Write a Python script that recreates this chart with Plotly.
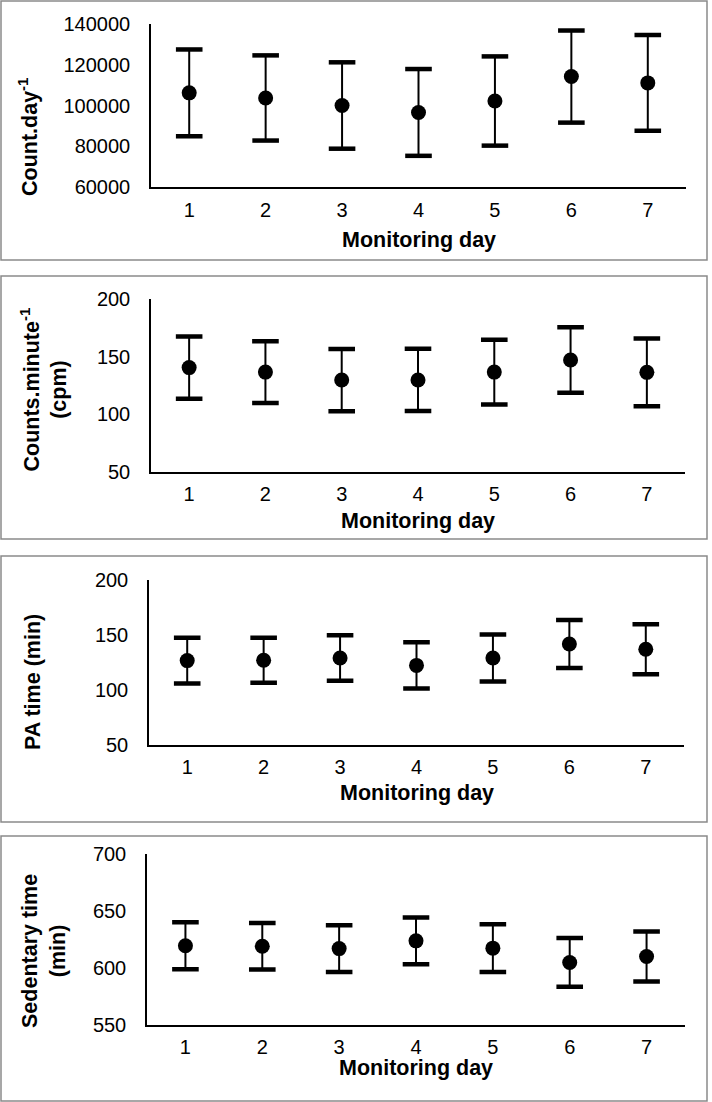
import numpy as np
import plotly.graph_objects as go

# ---------------- data ----------------
days = ["1", "2", "3", "4", "5", "6", "7"]

counts_day_mean = [106200, 103700, 100000, 96600, 102200, 114200, 111100]
counts_day_sd = [21300, 20900, 21200, 21300, 21900, 22600, 23500]

cpm_mean = [140.4, 136.5, 129.6, 129.7, 136.5, 147.0, 136.3]
cpm_sd = [27.1, 26.8, 27.0, 27.0, 28.1, 28.4, 29.5]

pa_mean = [126.6, 126.9, 128.9, 122.2, 129.0, 141.7, 136.9]
pa_sd = [20.8, 20.5, 20.7, 21.1, 21.4, 21.9, 22.8]

sed_mean = [619.5, 619.1, 617.0, 623.8, 617.4, 604.8, 610.0]
sed_sd = [20.7, 20.4, 20.6, 20.6, 21.1, 21.5, 22.0]

y_titles = [
    "Count.day<sup>-1</sup>",
    "Counts.minute<sup>-1</sup><br>(cpm)",
    "PA time (min)",
    "Sedentary time<br>(min)",
]
x_title = "Monitoring day"
y_ranges = [[60000, 140000], [50, 200], [50, 200], [550, 700]]
y_dticks = [20000, 50, 50, 50]

panels = [
    (counts_day_mean, counts_day_sd),
    (cpm_mean, cpm_sd),
    (pa_mean, pa_sd),
    (sed_mean, sed_sd),
]

# ---------------- layout geometry (pixels) ----------------
W, H = 712, 1102
# plot areas: left, right, top, bottom
plot_px = [
    (151, 686, 24, 187),
    (151, 685, 299, 471.7),
    (149, 684, 580, 744.7),
    (147, 685, 854.3, 1024.7),
]
# panel borders: top, bottom
border_px = [(1, 260), (276, 539), (556, 822), (836, 1101)]
# y title centers (x, y)
ytitle_px = [(28, 137), (43.5, 390), (33, 682), (44, 951)]
# x title cap centre y
xtitle_py = [240, 520.5, 792.5, 1067.5]

FONT = "Liberation Sans, Arial, sans-serif"

fig = go.Figure()
layout = dict(
    template="none",
    width=W, height=H, autosize=False,
    margin=dict(l=0, r=0, t=0, b=0, pad=0, autoexpand=False),
    paper_bgcolor="white", plot_bgcolor="white",
    showlegend=False,
    font=dict(family=FONT, color="black", size=20),
)

shapes = []
annotations = []

for i, (means, sds) in enumerate(panels):
    n = "" if i == 0 else str(i + 1)
    xa, ya = "x" + n, "y" + n
    means_a = np.array(means, dtype=float)
    sds_a = np.array(sds, dtype=float)

    # points with error stems
    fig.add_trace(go.Scatter(
        x=days, y=means, mode="markers", xaxis=xa, yaxis=ya,
        marker=dict(size=15, color="black"),
        error_y=dict(type="data", array=sds, visible=True,
                     color="black", thickness=2, width=0),
        hoverinfo="skip",
    ))
    # thick caps
    fig.add_trace(go.Scatter(
        x=days + days, y=np.concatenate([means_a + sds_a, means_a - sds_a]),
        mode="markers", xaxis=xa, yaxis=ya,
        marker=dict(symbol="line-ew", size=19,
                    line=dict(width=4.5, color="black")),
        hoverinfo="skip",
    ))

    l, r, t, b = plot_px[i]
    layout["xaxis" + n] = dict(
        domain=[l / W, r / W], anchor=ya, automargin=False,
        type="category", range=[-0.5, 6.5],
        showline=True, linecolor="black", linewidth=1.5,
        showgrid=False, zeroline=False, ticks="",
        ticklabelstandoff=4,
        tickfont=dict(size=20, family=FONT, color="black"),
    )
    layout["yaxis" + n] = dict(
        domain=[1 - b / H, 1 - t / H], anchor=xa, automargin=False,
        range=y_ranges[i], dtick=y_dticks[i], tick0=y_ranges[i][0],
        tickformat="d",
        showline=True, linecolor="black", linewidth=1.5,
        showgrid=False, zeroline=False, ticks="",
        ticklabelstandoff=15,
        tickfont=dict(size=20, family=FONT, color="black"),
    )

    bt, bb = border_px[i]
    shapes.append(dict(
        type="rect", xref="paper", yref="paper",
        x0=1 / W, x1=707 / W, y0=1 - bb / H, y1=1 - bt / H,
        line=dict(color="#8a8a8a", width=1.5), fillcolor="rgba(0,0,0,0)",
    ))

    tx, ty = ytitle_px[i]
    annotations.append(dict(
        text="<b>" + y_titles[i] + "</b>", xref="paper", yref="paper",
        x=tx / W, y=1 - ty / H, xanchor="center", yanchor="middle",
        textangle=-90, showarrow=False,
        font=dict(size=21.5, family=FONT, color="black"),
    ))
    annotations.append(dict(
        text="<b>" + x_title + "</b>", xref="paper", yref="paper",
        x=((l + r) / 2) / W, y=1 - xtitle_py[i] / H,
        xanchor="center", yanchor="middle", showarrow=False,
        font=dict(size=21.5, family=FONT, color="black"),
    ))

layout["shapes"] = shapes
layout["annotations"] = annotations
fig.update_layout(**layout)

fig.write_html(
    "out.html",
    config={"displayModeBar": False},
    post_script="document.body.style.margin='0';document.body.style.padding='0';document.body.style.overflow='hidden';",
)
